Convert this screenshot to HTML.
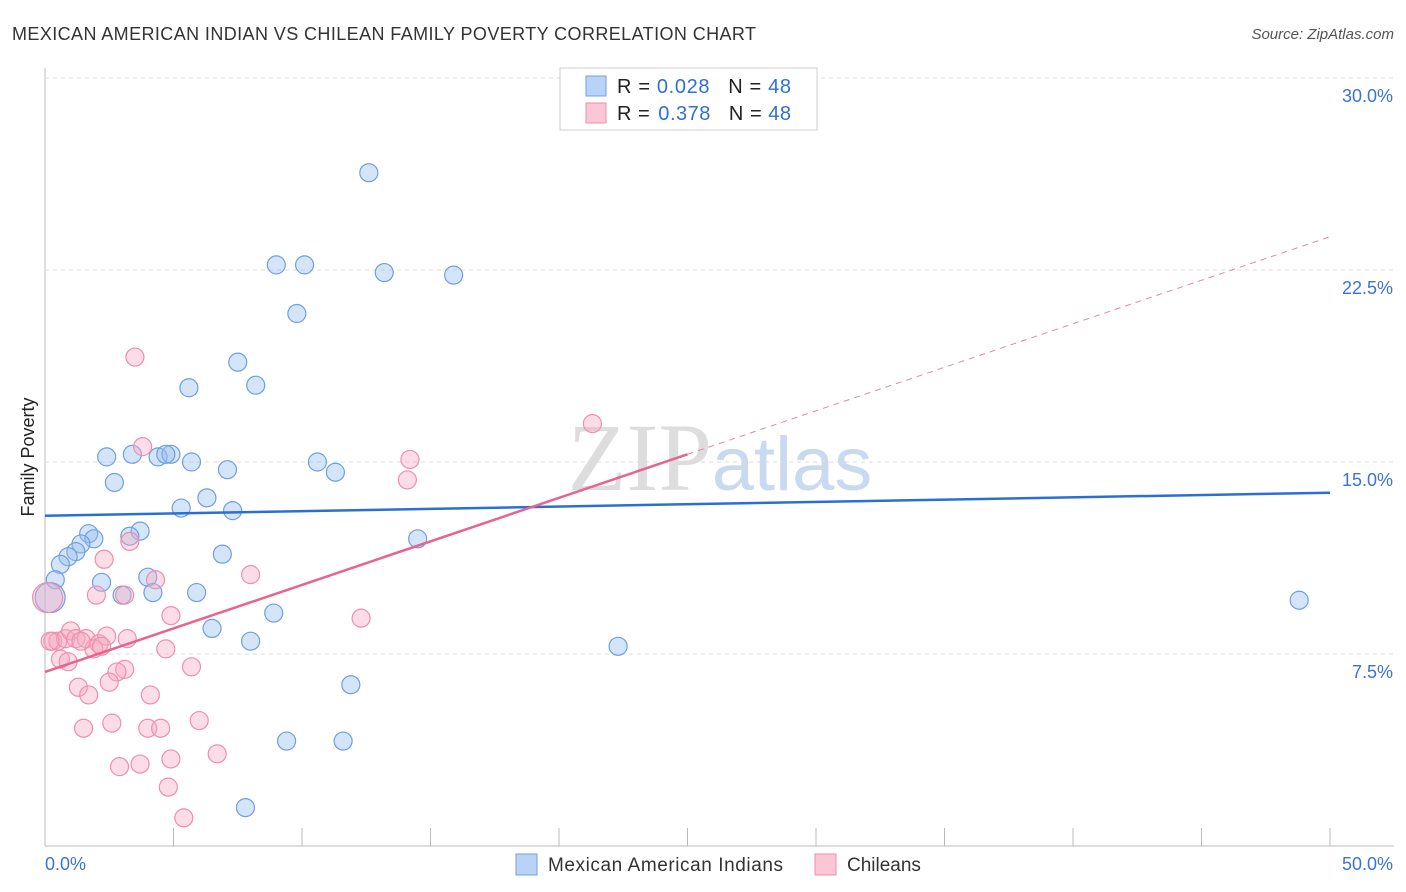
<!DOCTYPE html>
<html><head><meta charset="utf-8"><style>
body{margin:0;background:#fff;font-family:"Liberation Sans",sans-serif}
</style></head><body>
<svg id="c" width="1406" height="892" style="display:block">
<text x="12" y="40" font-size="18" fill="#333" textLength="744">MEXICAN AMERICAN INDIAN VS CHILEAN FAMILY POVERTY CORRELATION CHART</text>
<text x="1394" y="39" font-size="15" fill="#555" font-style="italic" text-anchor="end">Source: ZipAtlas.com</text>
<text x="34" y="457" font-size="18" fill="#222" transform="rotate(-90 34 457)" text-anchor="middle">Family Poverty</text>
<text x="720" y="490" font-size="96" fill="#ddd" text-anchor="middle" font-family="Liberation Serif">ZIP<tspan fill="#c9daf0" font-family="Liberation Sans" font-size="76">atlas</tspan></text>
<g id="grid"></g><g id="pts"></g><g id="lines"></g>
<g>
<rect x="560" y="68" width="257" height="62" fill="#fff" stroke="#ccc"/>
<rect x="586" y="76" width="20" height="20" fill="#b8d3f5" stroke="#6f9fe0"/>
<rect x="586" y="103" width="20" height="20" fill="#fbc6d5" stroke="#ee8fab"/>
<text x="617" y="93" font-size="20" fill="#222" textLength="174">R = <tspan fill="#2f6fd6">0.028</tspan><tspan dx="18">N = </tspan><tspan fill="#2f6fd6">48</tspan></text>
<text x="617" y="120" font-size="20" fill="#222" textLength="174">R = <tspan dx="2" fill="#2f6fd6">0.378</tspan><tspan dx="18">N = </tspan><tspan fill="#2f6fd6">48</tspan></text>
</g>
<g>
<rect x="516" y="854" width="21" height="21" fill="#b8d3f5" stroke="#6f9fe0"/>
<text x="548" y="871" font-size="19" fill="#333" textLength="235">Mexican American Indians</text>
<rect x="815" y="854" width="21" height="21" fill="#fbc6d5" stroke="#ee8fab"/>
<text x="847" y="871" font-size="19" fill="#333">Chileans</text>
</g>
</svg>
<script>
const xTicksLbl=["0.0%","50.0%"];
const yTicks=[7.5,15,22.5,30];
const blueX=[12.6,9.0,10.1,13.2,15.9,9.8,7.5,5.6,8.2,2.4,3.4,4.4,4.9,4.7,5.7,7.1,10.6,11.3,2.7,6.3,5.3,7.3,1.7,1.9,1.4,1.2,0.9,0.6,3.7,3.3,14.5,6.9,2.2,4.0,4.2,3.0,5.9,0.4,0.2,8.9,6.5,8.0,22.3,11.9,9.4,11.6,7.8,48.8];
const blueY=[26.3,22.7,22.7,22.4,22.3,20.8,18.9,17.9,18.0,15.2,15.3,15.2,15.3,15.3,15.0,14.7,15.0,14.6,14.2,13.6,13.2,13.1,12.2,12.0,11.8,11.5,11.3,11.0,12.3,12.1,12.0,11.4,10.3,10.5,9.9,9.8,9.9,10.4,9.7,9.1,8.5,8.0,7.8,6.3,4.1,4.1,1.5,9.6];
const blueR=[9,9,9,9,9,9,9,9,9,9,9,9,9,9,9,9,9,9,9,9,9,9,9,9,9,9,9,9,9,9,9,9,9,9,9,9,9,9,15,9,9,9,9,9,9,9,9,9];
const pinkX=[3.5,21.3,3.8,14.2,14.1,3.3,2.3,4.3,8.0,2.0,3.1,4.9,12.3,0.1,0.3,0.5,0.8,1.0,1.2,1.6,2.1,2.4,3.2,1.9,4.7,0.6,0.9,3.1,2.8,5.7,2.5,1.3,1.7,4.1,1.5,2.6,4.0,4.5,6.0,6.7,4.9,3.7,2.9,4.8,5.4,0.2,1.4,2.2];
const pinkY=[19.1,16.5,15.6,15.1,14.3,11.9,11.2,10.4,10.6,9.8,9.8,9.0,8.9,9.7,8.0,8.0,8.1,8.4,8.1,8.1,7.9,8.2,8.1,7.7,7.7,7.3,7.2,6.9,6.8,7.0,6.4,6.2,5.9,5.9,4.6,4.8,4.6,4.6,4.9,3.6,3.4,3.2,3.1,2.3,1.1,8.0,8.0,7.8];
const pinkR=pinkX.map((v,i)=>i==13?15:9);
const blueTrend=[12.9,13.8];
const pinkTrend=[6.8,23.8];
const X=v=>45+v*25.7, Y=v=>846-v*25.6;
const NS="http://www.w3.org/2000/svg";
function mk(t,a,p){const e=document.createElementNS(NS,t);for(const k in a)e.setAttribute(k,a[k]);p.appendChild(e);return e;}
const g=document.getElementById('grid');
mk('line',{x1:45,y1:68,x2:45,y2:846,stroke:'#bbb'},g);
mk('line',{x1:45,y1:846,x2:1394,y2:846,stroke:'#bbb'},g);
yTicks.forEach(t=>{const l=mk('line',{x1:45,y1:Y(t),x2:1394,y2:Y(t),stroke:'#ddd','stroke-dasharray':'4,4'},g);

const tx=mk('text',{x:1393,y:Y(t)+24,'font-size':18,fill:'#3b74d4','text-anchor':'end'},g);tx.textContent=t.toFixed(1)+'%';
});
for(let i=1;i<=10;i++){const l=mk('line',{x1:X(i*5),y1:828,x2:X(i*5),y2:846,stroke:'#bbb'},g);}
[[0,'start',45],[50,'end',1393]].forEach((d,i)=>{const tx=mk('text',{x:d[2],y:870,'font-size':18,fill:'#3b74d4','text-anchor':d[1]},g);tx.textContent=xTicksLbl[i];
});
const p=document.getElementById('pts');
blueX.forEach((v,i)=>{const c=mk('circle',{cx:X(v),cy:Y(blueY[i]),r:blueR[i],fill:'rgba(150,190,240,0.4)',stroke:'#6f9fe0','stroke-width':1.2},p);
});
pinkX.forEach((v,i)=>{const c=mk('circle',{cx:X(v),cy:Y(pinkY[i]),r:pinkR[i],fill:'rgba(248,170,195,0.4)',stroke:'#ee8fab','stroke-width':1.2},p);
});
const L=document.getElementById('lines');
let l=mk('line',{x1:X(0),y1:Y(blueTrend[0]),x2:X(50),y2:Y(blueTrend[1]),stroke:'#2a6fd6','stroke-width':2.5},L);

const py=x=>pinkTrend[0]+(pinkTrend[1]-pinkTrend[0])*x/50;
l=mk('line',{x1:X(0),y1:Y(py(0)),x2:X(25),y2:Y(py(25)),stroke:'#e8648e','stroke-width':2.5},L);

l=mk('line',{x1:X(25),y1:Y(py(25)),x2:X(50),y2:Y(py(50)),stroke:'#e8889f','stroke-width':1,'stroke-dasharray':'6,5'},L);

</script>
</body></html>
